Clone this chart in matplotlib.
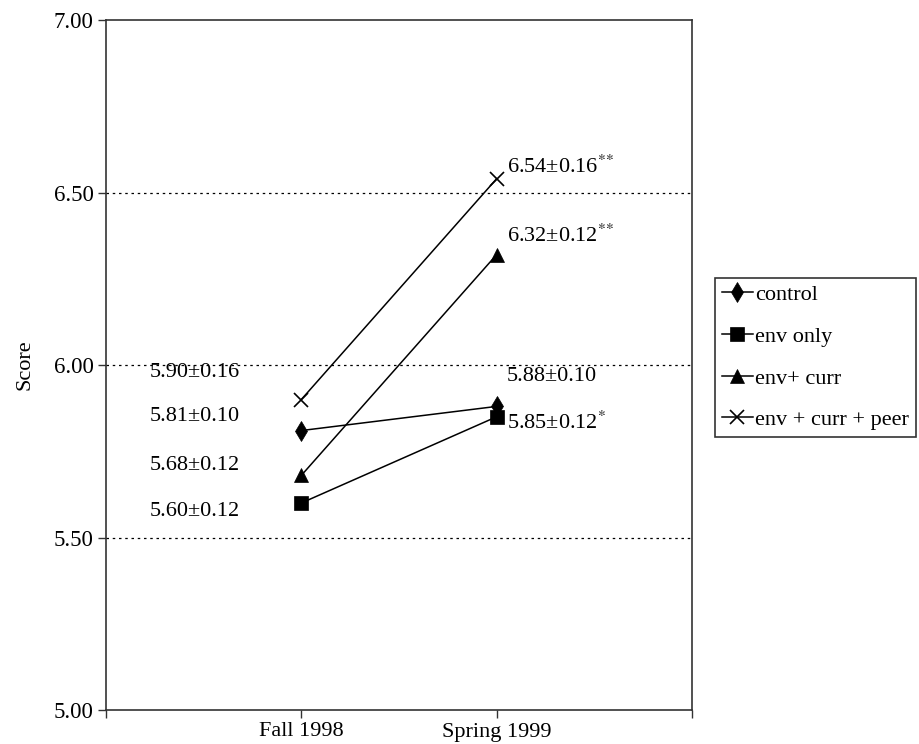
import matplotlib.pyplot as plt

plt.rcParams['font.family'] = ['Liberation Serif', 'DejaVu Serif']
plt.rcParams['mathtext.fontset'] = 'stix'

# dane
periods = ['Fall 1998', 'Spring 1999']
series = ['control', 'env only', 'env+ curr', 'env + curr + peer']
fall = [5.81, 5.60, 5.68, 5.90]
spring = [5.88, 5.85, 6.32, 6.54]
markers = ['d', 's', '^', 'x']

fall_labels = ['5.81±0.10', '5.60±0.12', '5.68±0.12', '5.90±0.16']
spring_labels = ['5.88±0.10', '5.85±0.12$^{*}$', '6.32±0.12$^{*\\!*}$', '6.54±0.16$^{*\\!*}$']
# pozycje etykiet (os y)
fall_label_y = [5.852, 5.574, 5.710, 5.977]
spring_label_y = [5.968, 5.832, 6.374, 6.574]

fig = plt.figure(figsize=(9.19, 7.44), dpi=100)
ax = fig.add_axes([106/919, 1 - 710/744, 586/919, 690/744])

x = [1, 2]
handles = []
for i, name in enumerate(series):
    h, = ax.plot(x, [fall[i], spring[i]], color='black', lw=1.1,
                 marker=markers[i], markersize=10,
                 markeredgewidth=1.2 if markers[i] == 'x' else 0.5,
                 markerfacecolor='black', markeredgecolor='black', label=name)
    handles.append(h)

for lab, yy in zip(fall_labels, fall_label_y):
    ax.text(0.225, yy, lab, fontsize=16, va='center', ha='left')
for lab, yy in zip(spring_labels, spring_label_y):
    ax.text(2.053, yy, lab, fontsize=16, va='center', ha='left')

# linie poziome
for yv in [5.5, 6.0, 6.5]:
    ax.axhline(yv, color='black', linestyle=(0, (2, 3)), lw=0.9)

ax.set_xlim(0, 3)
ax.set_ylim(5.0, 7.0)
ax.set_yticks([5.0, 5.5, 6.0, 6.5, 7.0])
ax.set_yticklabels(['5.00', '5.50', '6.00', '6.50', '7.00'], fontsize=16.5)
ax.set_xticks([0, 1, 2, 3])
ax.set_xticklabels(['', periods[0], periods[1], ''], fontsize=16)
ax.tick_params(direction='out', length=6, width=1, color='#333333', pad=3)
for s in ax.spines.values():
    s.set_color('#333333')
    s.set_linewidth(1.2)
ax.set_ylabel('Score', fontsize=16, labelpad=14)

leg = fig.legend(handles=handles, loc='upper left', bbox_to_anchor=(715/919, 1 - 278/744),
                 fontsize=16, frameon=True, fancybox=False, handlelength=1.4,
                 handletextpad=0.1, borderpad=0.3, labelspacing=0.95, borderaxespad=0)
leg.get_frame().set_edgecolor('black')
leg.get_frame().set_linewidth(1.2)

plt.savefig('out.png', dpi=100)
